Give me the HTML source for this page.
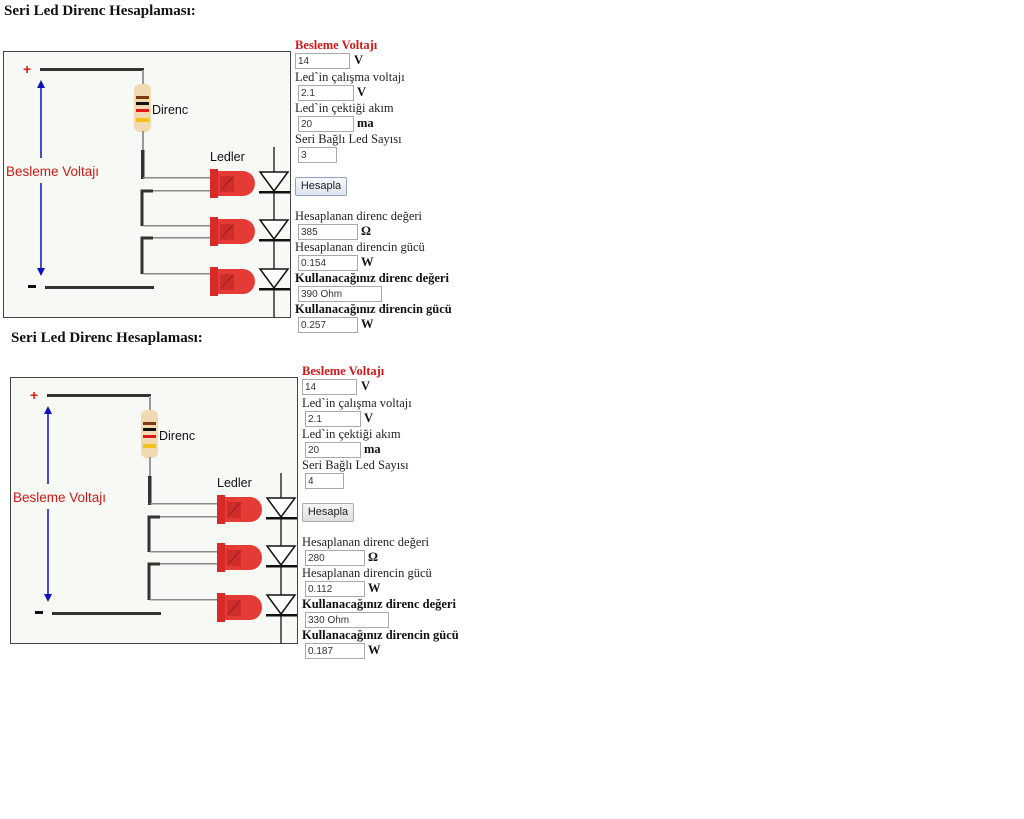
<!DOCTYPE html>
<html><head><meta charset="utf-8">
<style>
body{margin:0;width:1024px;height:819px;background:#fff;position:relative;overflow:hidden;font-family:"Liberation Serif",serif;}
.blk{position:absolute;left:0;top:0;width:480px;height:340px;}
.title{position:absolute;left:4px;top:3px;font-weight:bold;font-size:15px;color:#111;white-space:nowrap;}
.t{position:absolute;font-size:12.5px;color:#222;white-space:nowrap;line-height:14px;}
.b{font-weight:bold;color:#111;}
.r{color:#d01818;font-weight:bold;}
.in{position:absolute;height:13px;padding-top:1px;border:1px solid #a9a9a9;background:#fff;font-family:"Liberation Sans",sans-serif;font-size:10px;line-height:14px;padding-left:2px;color:#333;box-sizing:content-box;}
.u{position:absolute;font-weight:bold;font-size:12.5px;color:#111;}
.btn{position:absolute;left:295px;top:177px;width:50px;height:17px;border:1px solid #8fa3c0;border-radius:2px;background:linear-gradient(#f6f8fb,#dde4ee);font-family:"Liberation Sans",sans-serif;font-size:11px;line-height:17px;text-align:center;color:#222;}
svg{position:absolute;left:0;top:0;}
</style></head><body>

<svg width="0" height="0" style="position:absolute">
<defs>
<g id="led">
<path d="M218 171 H243 A12 12.5 0 0 1 243 196 H218 Z" fill="#e53b36"/>
<rect x="210" y="169" width="8" height="29" fill="#d82a26"/>
<rect x="220" y="176" width="14" height="16" fill="#c52a26" opacity="0.7"/>
<path d="M221 190 L233 177" stroke="#a01c18" stroke-width="1"/>
</g>
<g id="dio">
<path d="M260 172 H288 L274 191 Z" fill="#fff" stroke="#111" stroke-width="1.5"/>
<rect x="259" y="191" width="31" height="2.5" fill="#111"/>
</g>
<g id="diag">
<rect x="3.5" y="51.5" width="287" height="266" fill="#f7faf4" stroke="#444" stroke-width="1"/>
<text x="23" y="74" fill="#e01818" font-family="Liberation Sans" font-weight="bold" font-size="14">+</text>
<rect x="40" y="68" width="104" height="3" fill="#333"/>
<rect x="142" y="70" width="2" height="16" fill="#999"/>
<rect x="134" y="84" width="17" height="48" rx="6" fill="#f1d9b2"/>
<rect x="136" y="96" width="13" height="3" fill="#7a3b12"/>
<rect x="136" y="102" width="13" height="3" fill="#111"/>
<rect x="136" y="109" width="13" height="3" fill="#e01818"/>
<rect x="136" y="118" width="13" height="4" fill="#f2c21a"/>
<rect x="142" y="131" width="2" height="20" fill="#999"/>
<rect x="141" y="150" width="3.5" height="29" fill="#333"/>
<rect x="143" y="177" width="68" height="1.5" fill="#888"/>
<path d="M153 191 H142 V226" stroke="#333" stroke-width="3" fill="none"/>
<rect x="153" y="190" width="58" height="1.5" fill="#888"/>
<rect x="143" y="225" width="68" height="1.5" fill="#888"/>
<path d="M153 238 H142 V274" stroke="#333" stroke-width="3" fill="none"/>
<rect x="153" y="237" width="58" height="1.5" fill="#888"/>
<rect x="143" y="273" width="68" height="1.5" fill="#888"/>
<rect x="45" y="286" width="109" height="3" fill="#333"/>
<rect x="28" y="285" width="8" height="3" fill="#111"/>
<line x1="274" y1="147" x2="274" y2="318" stroke="#333" stroke-width="1.5"/>
<use href="#led"/><use href="#led" y="48"/><use href="#led" y="98"/>
<use href="#dio"/><use href="#dio" y="48"/><use href="#dio" y="97"/>
<line x1="41" y1="86" x2="41" y2="158" stroke="#1010c0" stroke-width="1.5"/>
<line x1="41" y1="183" x2="41" y2="270" stroke="#1010c0" stroke-width="1.5"/>
<path d="M37 88 L41 80 L45 88 Z" fill="#1010c0"/>
<path d="M37 268 L41 276 L45 268 Z" fill="#1010c0"/>
<text x="6" y="176" fill="#d01818" font-family="Liberation Sans" font-size="13.5">Besleme Voltajı</text>
<text x="152" y="114" fill="#111" font-family="Liberation Sans" font-size="12.5">Direnc</text>
<text x="210" y="161" fill="#111" font-family="Liberation Sans" font-size="12.5">Ledler</text>
</g>
</defs></svg>

<div class="blk">
<div class="title">Seri Led Direnc Hesaplaması:</div>
<svg width="480" height="340"><use href="#diag"/></svg>
<div class="t r" style="left:295px;top:38px">Besleme Voltajı</div>
<div class="in" style="left:295px;top:53px;width:51px">14</div><div class="u" style="left:354px;top:53px">V</div>
<div class="t" style="left:295px;top:70px">Led`in çalışma voltajı</div>
<div class="in" style="left:298px;top:85px;width:52px">2.1</div><div class="u" style="left:357px;top:85px">V</div>
<div class="t" style="left:295px;top:101px">Led`in çektiği akım</div>
<div class="in" style="left:298px;top:116px;width:52px">20</div><div class="u" style="left:357px;top:116px">ma</div>
<div class="t" style="left:295px;top:132px">Seri Bağlı Led Sayısı</div>
<div class="in" style="left:298px;top:147px;width:35px">3</div>
<div class="btn">Hesapla</div>
<div class="t" style="left:295px;top:209px">Hesaplanan direnc değeri</div>
<div class="in" style="left:298px;top:224px;width:56px">385</div><div class="u" style="left:361px;top:224px">Ω</div>
<div class="t" style="left:295px;top:240px">Hesaplanan direncin gücü</div>
<div class="in" style="left:298px;top:255px;width:56px">0.154</div><div class="u" style="left:361px;top:255px">W</div>
<div class="t b" style="left:295px;top:271px">Kullanacağınız direnc değeri</div>
<div class="in" style="left:298px;top:286px;width:80px">390 Ohm</div>
<div class="t b" style="left:295px;top:302px">Kullanacağınız direncin gücü</div>
<div class="in" style="left:298px;top:317px;width:56px">0.257</div><div class="u" style="left:361px;top:317px">W</div>
</div>

<div class="blk" style="left:7px;top:326px">
<div class="title" style="top:4px">Seri Led Direnc Hesaplaması:</div>
<svg width="480" height="340"><use href="#diag"/></svg>
<div class="t r" style="left:295px;top:38px">Besleme Voltajı</div>
<div class="in" style="left:295px;top:53px;width:51px">14</div><div class="u" style="left:354px;top:53px">V</div>
<div class="t" style="left:295px;top:70px">Led`in çalışma voltajı</div>
<div class="in" style="left:298px;top:85px;width:52px">2.1</div><div class="u" style="left:357px;top:85px">V</div>
<div class="t" style="left:295px;top:101px">Led`in çektiği akım</div>
<div class="in" style="left:298px;top:116px;width:52px">20</div><div class="u" style="left:357px;top:116px">ma</div>
<div class="t" style="left:295px;top:132px">Seri Bağlı Led Sayısı</div>
<div class="in" style="left:298px;top:147px;width:35px">4</div>
<div class="btn" style="border-color:#aaa;background:linear-gradient(#f6f6f6,#dedede)">Hesapla</div>
<div class="t" style="left:295px;top:209px">Hesaplanan direnc değeri</div>
<div class="in" style="left:298px;top:224px;width:56px">280</div><div class="u" style="left:361px;top:224px">Ω</div>
<div class="t" style="left:295px;top:240px">Hesaplanan direncin gücü</div>
<div class="in" style="left:298px;top:255px;width:56px">0.112</div><div class="u" style="left:361px;top:255px">W</div>
<div class="t b" style="left:295px;top:271px">Kullanacağınız direnc değeri</div>
<div class="in" style="left:298px;top:286px;width:80px">330 Ohm</div>
<div class="t b" style="left:295px;top:302px">Kullanacağınız direncin gücü</div>
<div class="in" style="left:298px;top:317px;width:56px">0.187</div><div class="u" style="left:361px;top:317px">W</div>
</div>

</body></html>
